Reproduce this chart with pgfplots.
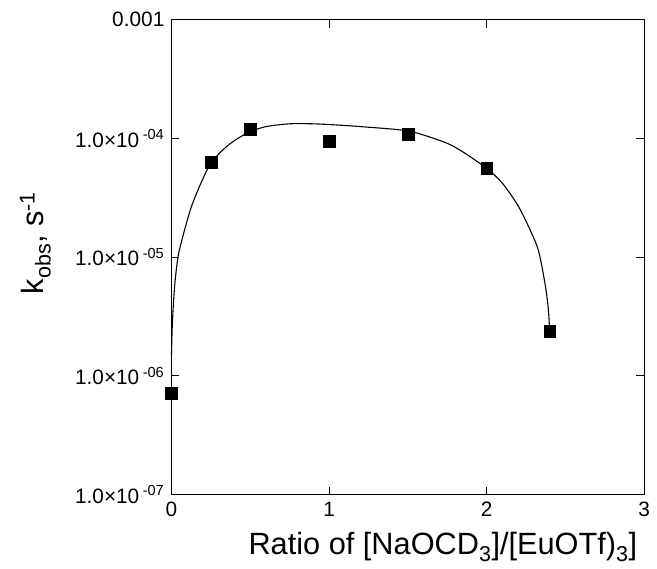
\documentclass[border=0pt]{standalone}
\usepackage{pgfplots}
\pgfplotsset{compat=1.18}
\usepackage{fontspec}
\setmainfont{Liberation Sans}
\begin{document}
\fontsize{21}{25}\selectfont
\begin{tikzpicture}
\begin{axis}[
  name=ax,
  scale only axis,
  width=477pt, height=479pt,
  xmin=0, xmax=3,
  ymode=log, ymin=1e-7, ymax=1e-3,
  xtick={0,1,2,3},
  ytick={1e-7,1e-6,1e-5,1e-4,1e-3},
  yticklabels={1.0×10\,\textsuperscript{-07},1.0×10\,\textsuperscript{-06},1.0×10\,\textsuperscript{-05},1.0×10\,\textsuperscript{-04},0.001},
  xticklabels={0,1,2,3},
  yminorticks=false,
  tick align=inside,
  xtick pos=both, ytick pos=both,
  xticklabel pos=lower, yticklabel pos=left,
  major tick length=8pt,
  axis line style={line width=1.1pt},
  every tick/.style={line width=1pt, black},
  tick label style={font=\fontsize{21}{25}\selectfont},
  label style={font=\fontsize{31}{35}\selectfont},
  xlabel={Ratio of [NaOCD\textsubscript{3}]/[EuOTf)\textsubscript{3}]},
  ylabel={k\textsubscript{obs}, s\textsuperscript{-1}},
  xlabel style={at={(axis description cs:0.574,-0.127)}, anchor=base},
  ylabel style={at={(axis description cs:-0.288,0.53)}, anchor=center},
  clip=false,
]
\addplot[black, line width=1.1pt, smooth, no markers] coordinates {
(0.000,1.5e-6) (0.004,2.4e-6) (0.012,4.0e-6) (0.023,6.3e-6) (0.044,1.05e-5)
(0.086,1.75e-5) (0.128,2.7e-5) (0.19,4.3e-5) (0.25,6.2e-5) (0.338,8.3e-5)
(0.42,1.0e-4) (0.5,1.14e-4) (0.6,1.26e-4) (0.75,1.33e-4) (0.9,1.33e-4)
(1.05,1.30e-4) (1.2,1.26e-4) (1.43,1.19e-4) (1.55,1.12e-4) (1.742,9.2e-5)
(1.85,7.7e-5) (2.0,5.6e-5) (2.1,4.2e-5) (2.2,2.7e-5) (2.28,1.65e-5)
(2.33,1.12e-5) (2.37,6.0e-6) (2.39,3.8e-6) (2.4,2.4e-6)
};
\addplot[only marks, mark=square*, mark size=6pt, black] coordinates {
(0,7.2e-7) (0.25,6.27e-5) (0.5,1.19e-4) (1.0,9.5e-5) (1.5,1.08e-4) (2.0,5.58e-5) (2.4,2.4e-6)
};
\end{axis}
\path (ax.south west) ++(-173pt,-68pt);
\path (ax.north east) ++(7pt,20pt);
\end{tikzpicture}
\end{document}
